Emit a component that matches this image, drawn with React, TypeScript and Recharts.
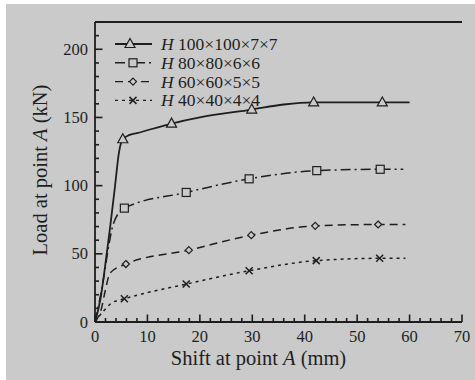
import React from 'react';
import { LineChart, Line, XAxis, YAxis, Legend } from 'recharts';

type Pt = { x: number; y: number; m?: boolean };

const h100: Pt[] = [
  { x: 0, y: 0 }, { x: 1, y: 16 }, { x: 1.9, y: 40 }, { x: 2.9, y: 70 }, { x: 3.8, y: 99 },
  { x: 4.6, y: 125 }, { x: 5.3, y: 134, m: true }, { x: 6.5, y: 137 }, { x: 8, y: 138.5 },
  { x: 14.6, y: 145.5, m: true }, { x: 20, y: 150 }, { x: 29.9, y: 155.8, m: true },
  { x: 36, y: 159.5 }, { x: 41.7, y: 161, m: true }, { x: 54.8, y: 161, m: true }, { x: 60, y: 161 },
];
const h80: Pt[] = [
  { x: 0, y: 0 }, { x: 1.6, y: 31 }, { x: 2.5, y: 53 }, { x: 3.5, y: 72 },
  { x: 5.6, y: 83.5, m: true }, { x: 17.4, y: 95, m: true }, { x: 29.4, y: 105, m: true },
  { x: 42.3, y: 111, m: true }, { x: 54.4, y: 112, m: true }, { x: 58.8, y: 112 },
];
const h60: Pt[] = [
  { x: 0, y: 0 }, { x: 1.3, y: 11 }, { x: 1.9, y: 22 }, { x: 2.9, y: 36 },
  { x: 5.9, y: 42.5, m: true }, { x: 17.9, y: 52.7, m: true }, { x: 29.8, y: 63.7, m: true },
  { x: 42, y: 70.5, m: true }, { x: 54, y: 71.5, m: true }, { x: 59.2, y: 71.5 },
];
const h40: Pt[] = [
  { x: 0, y: 0 }, { x: 1.6, y: 8 }, { x: 3.2, y: 14 },
  { x: 5.6, y: 17, m: true }, { x: 17.4, y: 27.8, m: true }, { x: 29.4, y: 37.6, m: true },
  { x: 42.2, y: 45, m: true }, { x: 54.3, y: 46.7, m: true }, { x: 59.2, y: 46.7 },
];

const seriesNames = ['100×100×7×7', '80×80×6×6', '60×60×5×5', '40×40×4×4'];
const xTicks = Array.from({ length: 36 }, (_, i) => i * 2);
const yTicks = Array.from({ length: 23 }, (_, i) => i * 10);

const INK = '#1e1e1e';
const FONT = '"Liberation Serif", "DejaVu Serif", serif';
const dashes = ['0', '10 4 2 4', '8 5', '3 4'];
const frame = { stroke: INK, strokeWidth: 1.8 };

const Marker = ({ kind, cx, cy }: { kind: number; cx: number; cy: number }) => {
  const p = { fill: '#cacaca', stroke: INK, strokeWidth: 1.2 };
  if (kind === 0) return <polygon points={`${cx},${cy - 5.5} ${cx - 5},${cy + 3.5} ${cx + 5},${cy + 3.5}`} {...p} />;
  if (kind === 1) return <rect x={cx - 4} y={cy - 4} width={8} height={8} {...p} />;
  if (kind === 2) return <polygon points={`${cx},${cy - 3.5} ${cx + 3.5},${cy} ${cx},${cy + 3.5} ${cx - 3.5},${cy}`} {...p} />;
  return (
    <g stroke={INK} strokeWidth={1.5}>
      <line x1={cx - 3.5} y1={cy - 3.5} x2={cx + 3.5} y2={cy + 3.5} />
      <line x1={cx - 3.5} y1={cy + 3.5} x2={cx + 3.5} y2={cy - 3.5} />
    </g>
  );
};

const dotFor = (kind: number) => (props: any) => {
  const { cx, cy, payload, index } = props;
  if (!payload?.m) return <g key={index} />;
  return <g key={index}><Marker kind={kind} cx={cx} cy={cy} /></g>;
};

// inward tick marks drawn as small filled rects, plus labels on bottom/left
const AxisTick = (props: any) => {
  const { x, y, payload, side } = props;
  const v = payload.value;
  const major = side === 'bottom' || side === 'top' ? v % 10 === 0 : v % 50 === 0;
  const len = major ? 7.5 : 4;
  const w = 1.6;
  if (side === 'bottom') {
    return (
      <g>
        <rect x={x - w / 2} y={y - len} width={w} height={len} fill={INK} />
        {major && (
          <text x={x} y={y + 19.5} textAnchor="middle" fontSize={16.5} fontFamily={FONT} fill={INK}>{v}</text>
        )}
      </g>
    );
  }
  if (side === 'top') return <g><rect x={x - w / 2} y={y} width={w} height={len} fill={INK} /></g>;
  if (side === 'left') {
    return (
      <g>
        <rect x={x} y={y - w / 2} width={len} height={w} fill={INK} />
        {major && (
          <text x={x - 7} y={y + 5.5} textAnchor="end" fontSize={16.5} fontFamily={FONT} fill={INK}>{v}</text>
        )}
      </g>
    );
  }
  return <g><rect x={x - len} y={y - w / 2} width={len} height={w} fill={INK} /></g>;
};

const XTitle = (props: any) => {
  const vb = props.viewBox;
  return (
    <text x={vb.x + vb.width / 2 - 20} y={vb.y + 43} textAnchor="middle" fontSize={20.5} fontFamily={FONT} fill={INK}>
      Shift at point <tspan fontStyle="italic">A</tspan> (mm)
    </text>
  );
};

const YTitle = (props: any) => {
  const vb = props.viewBox;
  const cx = vb.x + 47;
  const cy = vb.y + vb.height / 2 - 2;
  return (
    <text x={cx} y={cy} transform={`rotate(-90 ${cx} ${cy})`} textAnchor="middle" fontSize={20.5} fontFamily={FONT} fill={INK}>
      Load at point <tspan fontStyle="italic">A</tspan>  (kN)
    </text>
  );
};

const LegendBox = () => (
  <svg width={200} height={90}>
    {seriesNames.map((name, i) => {
      const cy = 14 + i * 18.8;
      return (
        <g key={name}>
          <line x1={0} y1={cy} x2={37} y2={cy} stroke={INK} strokeWidth={i === 0 ? 1.8 : 1.4} strokeDasharray={i === 0 ? undefined : dashes[i]} />
          <Marker kind={i} cx={i === 0 ? 15 : 18} cy={cy} />
          <text x={46} y={cy + 6} fontSize={17.5} fontFamily={FONT} fill={INK}>
            <tspan fontStyle="italic">H</tspan> {name}
          </text>
        </g>
      );
    })}
  </svg>
);

const App: React.FC = () => {
  const all = [h100, h80, h60, h40];
  return (
    <div style={{ position: 'absolute', left: 0, top: 0, width: 475, height: 380, background: '#ffffff' }}>
      <div style={{ position: 'absolute', left: 6, top: 4, width: 469, height: 376, background: '#cacaca' }} />
      <div style={{ position: 'absolute', left: 0, top: 0 }}>
        <LineChart width={475} height={380} margin={{ top: 22, right: 13, left: 0, bottom: 0 }}>
          <XAxis
            dataKey="x" type="number" domain={[0, 70]} ticks={xTicks} interval={0}
            height={58} tickSize={0} tickMargin={0}
            axisLine={frame} tickLine={false}
            tick={(p: any) => <AxisTick {...p} side="bottom" />}
            label={<XTitle />}
          />
          <XAxis
            xAxisId="top" dataKey="x" type="number" domain={[0, 70]} ticks={xTicks} interval={0}
            orientation="top" mirror tickSize={0} tickMargin={0}
            axisLine={frame} tickLine={false}
            tick={(p: any) => <AxisTick {...p} side="top" />}
          />
          <YAxis
            type="number" domain={[0, 220]} ticks={yTicks} interval={0} width={95}
            tickSize={0} tickMargin={0}
            axisLine={frame} tickLine={false}
            tick={(p: any) => <AxisTick {...p} side="left" />}
            label={<YTitle />}
          />
          <YAxis
            yAxisId="right" type="number" domain={[0, 220]} ticks={yTicks} interval={0}
            orientation="right" mirror width={0} tickSize={0} tickMargin={0}
            axisLine={frame} tickLine={false}
            tick={(p: any) => <AxisTick {...p} side="right" />}
          />
          <Legend
            layout="vertical" align="center" verticalAlign="middle"
            content={() => <LegendBox />}
            wrapperStyle={{ position: 'absolute', left: 115, top: 30, width: 200, height: 90 }}
          />
          {all.map((d, i) => (
            <Line
              key={i} data={d} dataKey="y" type="monotone" stroke={INK}
              strokeWidth={i === 0 ? 1.8 : 1.5} strokeDasharray={i === 0 ? undefined : dashes[i]}
              dot={dotFor(i)} activeDot={false} isAnimationActive={false} legendType="none"
            />
          ))}
        </LineChart>
      </div>
    </div>
  );
};

export default App;
